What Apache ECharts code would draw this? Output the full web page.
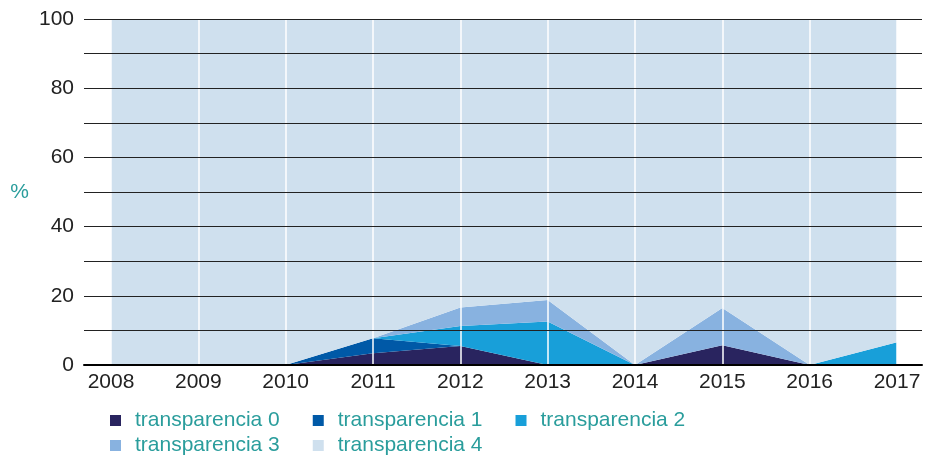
<!DOCTYPE html>
<html>
<head>
<meta charset="utf-8">
<script src="https://cdn.jsdelivr.net/npm/echarts@6/dist/echarts.min.js"></script>
<style>
  html, body { margin: 0; padding: 0; background: #fff; }
  #chart { width: 929px; height: 459px; }
</style>
</head>
<body>
<div id="chart"></div>
<script>
// Years on the horizontal axis
const years = ['2008', '2009', '2010', '2011', '2012', '2013', '2014', '2015', '2016', '2017'];

// Share (%) of each transparency level per year, stacked to 100
const transparencia0 = [0, 0, 0, 3.4, 5.5, 0, 0, 5.7, 0, 0];
const transparencia1 = [0, 0, 0, 4.3, 0, 0, 0, 0, 0, 0];
const transparencia2 = [0, 0, 0, 0, 5.8, 12.6, 0, 0, 0, 6.6];
const transparencia3 = [0, 0, 0, 0, 5.3, 6.2, 0, 10.8, 0, 0];
const transparencia4 = [100, 100, 100, 92.3, 83.4, 81.2, 100, 83.5, 100, 93.4];

const seriesNames = ['transparencia 0', 'transparencia 1', 'transparencia 2', 'transparencia 3', 'transparencia 4'];
const seriesValues = [transparencia0, transparencia1, transparencia2, transparencia3, transparencia4];
const colors = ['#29245f', '#0059a7', '#189fd9', '#88b2e0', '#cfe0ee'];

const FONT = '"Liberation Sans", Arial, sans-serif';
const TEAL = '#2a9d9c';

const legendCommon = {
  icon: 'rect',
  itemWidth: 11,
  itemHeight: 11,
  itemGap: 33,
  left: 110,
  padding: 0,
  orient: 'horizontal',
  textStyle: {
    color: TEAL,
    fontFamily: FONT,
    fontSize: 21,
    padding: [0, 0, 0, 9]
  }
};

const chart = echarts.init(document.getElementById('chart'), null, { renderer: 'canvas' });

chart.setOption({
  animation: false,
  color: colors,
  grid: [
    { left: 84, right: 7, top: 19, bottom: 94 },
    { left: 111, right: 32, top: 19, bottom: 94 }
  ],
  legend: [
    Object.assign({}, legendCommon, { top: 410, data: seriesNames.slice(0, 3) }),
    Object.assign({}, legendCommon, { top: 435, data: seriesNames.slice(3) })
  ],
  xAxis: [
    {
      // full-width frame carrying the baseline
      gridIndex: 0,
      type: 'value',
      min: 0,
      max: 1,
      z: 6,
      axisLine: { show: true, onZero: false, lineStyle: { color: '#000', width: 2 } },
      axisTick: { show: false },
      axisLabel: { show: false },
      splitLine: { show: false }
    },
    {
      gridIndex: 1,
      type: 'category',
      data: years,
      boundaryGap: false,
      z: 4,
      axisLine: { show: false },
      axisTick: { show: false },
      axisLabel: {
        color: '#222',
        fontFamily: FONT,
        fontSize: 21,
        margin: 7
      },
      splitLine: { show: true, lineStyle: { color: '#ffffff', width: 1.5 } }
    }
  ],
  yAxis: [
    {
      gridIndex: 0,
      type: 'value',
      min: 0,
      max: 100,
      interval: 10,
      z: 5,
      name: '%',
      nameLocation: 'middle',
      nameRotate: 0,
      nameGap: 55,
      nameTextStyle: { color: TEAL, fontFamily: FONT, fontSize: 21, padding: [8, 0, 0, 0] },
      axisLine: { show: false },
      axisTick: { show: false },
      axisLabel: {
        color: '#222',
        fontFamily: FONT,
        fontSize: 21,
        margin: 10,
        formatter: v => (v % 20 === 0 ? String(v) : '')
      },
      splitLine: { show: true, lineStyle: { color: '#222', width: 1 } }
    },
    {
      gridIndex: 1,
      type: 'value',
      min: 0,
      max: 100,
      show: false,
      splitLine: { show: false }
    }
  ],
  series: seriesNames.map((name, i) => ({
    name: name,
    type: 'line',
    xAxisIndex: 1,
    yAxisIndex: 1,
    stack: 'total',
    data: seriesValues[i],
    symbol: 'none',
    showSymbol: false,
    lineStyle: { width: 0 },
    areaStyle: { color: colors[i], opacity: 1 },
    itemStyle: { color: colors[i] },
    z: 2
  }))
});
</script>
</body>
</html>
